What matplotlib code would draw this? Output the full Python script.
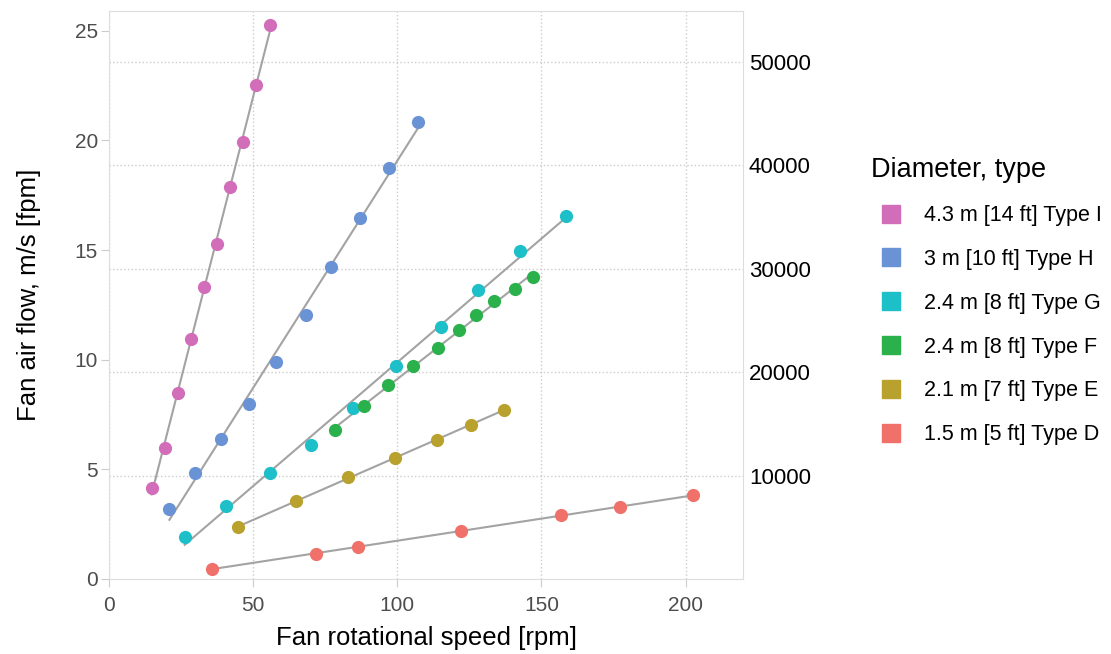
import numpy as np
import matplotlib.pyplot as plt
from matplotlib.lines import Line2D

plt.rcParams['font.family'] = ['Liberation Sans', 'DejaVu Sans']

labels = ["4.3 m [14 ft] Type I", "3 m [10 ft] Type H", "2.4 m [8 ft] Type G",
          "2.4 m [8 ft] Type F", "2.1 m [7 ft] Type E", "1.5 m [5 ft] Type D"]
colors = ["#D26DB9", "#6A93D6", "#1DBFC8", "#2BB14C", "#B9A12E", "#F0716A"]

rpm_i = [14.8, 19.4, 23.9, 28.4, 33.0, 37.4, 42.0, 46.4, 51.0, 56.0]
flow_i = [4.14, 5.99, 8.49, 10.95, 13.31, 15.28, 17.87, 19.92, 22.54, 25.26]
rpm_h = [21.0, 29.9, 39.0, 48.5, 57.9, 68.2, 76.9, 87.0, 97.1, 107.3]
flow_h = [3.19, 4.85, 6.37, 7.98, 9.89, 12.04, 14.22, 16.46, 18.76, 20.86]
rpm_g = [26.3, 40.5, 55.9, 70.1, 84.7, 99.7, 115.3, 128.1, 142.6, 158.5]
flow_g = [1.92, 3.33, 4.85, 6.13, 7.79, 9.73, 11.51, 13.18, 14.96, 16.55]
rpm_f = [78.5, 88.4, 96.9, 105.3, 114.3, 121.3, 127.2, 133.7, 141.0, 147.0]
flow_f = [6.80, 7.91, 8.85, 9.73, 10.52, 11.36, 12.06, 12.70, 13.24, 13.76]
rpm_e = [44.9, 64.9, 83.0, 99.1, 113.8, 125.7, 137.0]
flow_e = [2.37, 3.57, 4.64, 5.51, 6.35, 7.03, 7.72]
rpm_d = [35.6, 71.7, 86.3, 122.1, 156.8, 177.3, 202.4]
flow_d = [0.47, 1.14, 1.47, 2.18, 2.92, 3.28, 3.82]

series = [(rpm_i, flow_i), (rpm_h, flow_h), (rpm_g, flow_g),
          (rpm_f, flow_f), (rpm_e, flow_e), (rpm_d, flow_d)]

fpm_per_ms = 2119  # scale of right axis

fig = plt.figure(figsize=(11.11, 6.54), dpi=100)
ax = fig.add_axes([0.098, 0.1147, 0.571, 0.8683])

# fitted lines first, then the points on top
for x, y in series:
    k, b = np.polyfit(x, y, 1)
    xs = np.array([min(x), max(x)])
    ax.plot(xs, k * xs + b, color="#A3A3A3", lw=1.5, zorder=2)
for (x, y), c in zip(series, colors):
    ax.plot(x, y, 'o', color=c, ms=9.5, mec='none', zorder=3)

ax.set_xlim(0, 220)
ax.set_ylim(0, 25.9)
ax.set_xticks([0, 50, 100, 150, 200])
ax.set_yticks([0, 5, 10, 15, 20, 25])
ax.xaxis.grid(True, ls=':', color='#CCCCCC', lw=1)
ax.tick_params(axis='both', labelsize=15, labelcolor='#4D4D4D', color='#CCCCCC', length=6)
ax.tick_params(axis='x', pad=6)
ax.tick_params(axis='y', right=True, pad=2)
for s in ax.spines.values():
    s.set_color('#DDDDDD')

ax.set_xlabel("Fan rotational speed [rpm]", fontsize=18.5, labelpad=8)
ax.set_ylabel("Fan air flow, m/s [fpm]", fontsize=18.5, labelpad=24)

ax2 = ax.twinx()
ax2.set_ylim(0, 25.9 * fpm_per_ms)
ax2.set_yticks([10000, 20000, 30000, 40000, 50000])
ax2.yaxis.grid(True, ls=':', color='#CCCCCC', lw=1)
ax2.tick_params(axis='y', length=0, labelsize=16, pad=4, labelcolor='black')
for s in ax2.spines.values():
    s.set_visible(False)
ax2.set_zorder(0)
ax.set_zorder(1)
ax.patch.set_visible(False)

handles = [Line2D([], [], marker='s', ls='none', color=c, ms=13) for c in colors]
leg = fig.legend(handles, labels, loc='upper left', bbox_to_anchor=(0.784, 0.76),
                 frameon=False, fontsize=15.5, title="Diameter, type", title_fontsize=19.5,
                 labelspacing=1.06, handlelength=1.86, handletextpad=0.6,
                 borderpad=0, borderaxespad=0, alignment='left')
leg._legend_box.sep = 16

fig.savefig("out.png", dpi=100)
